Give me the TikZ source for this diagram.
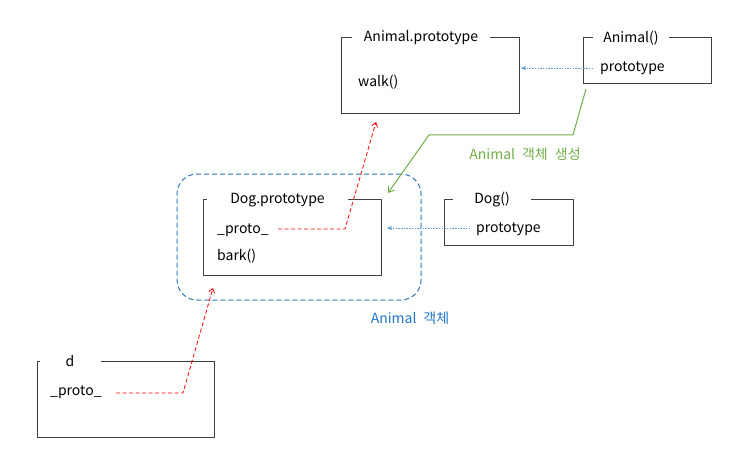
\documentclass[tikz,border=0pt]{standalone}
\usepackage{fontspec}
\setmainfont{Noto Sans CJK KR}
\usetikzlibrary{arrows.meta}
\definecolor{boxgray}{RGB}{64,64,64}
\definecolor{redline}{RGB}{255,0,0}
\definecolor{lightblue}{RGB}{91,155,213}
\definecolor{dashblue}{RGB}{46,117,182}
\definecolor{greenline}{RGB}{112,173,71}
\definecolor{bluetext}{RGB}{31,119,200}
\tikzset{
  box/.style={draw=boxgray, line width=0.9pt, rectangle, inner sep=0pt},
  title/.style={fill=white, inner sep=0pt, minimum height=8pt, text=black},
  item/.style={inner sep=0pt, anchor=west, text=black},
  redarrow/.style={draw=redline, line width=0.8pt, dash pattern=on 4pt off 2.5pt, -{Straight Barb[length=4pt,width=6pt]}},
  bluearrow/.style={draw=lightblue, line width=0.7pt, dash pattern=on 1.5pt off 1.2pt, -{Stealth[length=5pt,width=4pt]}},
  greenarrow/.style={draw=greenline, line width=1pt, -{Straight Barb[length=5pt,width=7pt]}},
  groupbox/.style={draw=dashblue, line width=1pt, dash pattern=on 5pt off 3pt, rounded corners=20pt, rectangle, inner sep=0pt}
}
\begin{document}
\begin{tikzpicture}[x=1pt,y=-1pt, font=\fontsize{14}{16}\selectfont]
\useasboundingbox (0,0) rectangle (735,465);

% Animal.prototype
\node[box, minimum width=178pt, minimum height=76pt] (apbox) at (430,75) {};
\node[title, minimum width=138pt] (aptitle) at (421,38) {Animal.prototype};
\node[item] (walk) at (358,82) {walk()};

% Animal()
\node[box, minimum width=128pt, minimum height=46pt] (anbox) at (647,60) {};
\node[title, minimum width=76pt] (antitle) at (631,38) {Animal()};
\node[item] (anproto) at (600,68) {prototype};

% group
\node[groupbox, minimum width=244pt, minimum height=126pt] (grp) at (299,237) {};
\node[text=bluetext] (grplabel) at (410,318) {Animal\hspace{7pt}객체};

% Dog.prototype
\node[box, minimum width=178pt, minimum height=76pt] (dpbox) at (292,237) {};
\node[title, minimum width=141pt] (dptitle) at (277.5,200) {Dog.prototype};
\node[item] (dpproto) at (217,230) {\_proto\_};
\node[item] (bark) at (217,256) {bark()};

% Dog()
\node[box, minimum width=129pt, minimum height=46pt] (dgbox) at (508.5,222) {};
\node[title, minimum width=78pt] (dgtitle) at (492,200) {Dog()};
\node[item] (dgproto) at (476,229) {prototype};

% d
\node[box, minimum width=177pt, minimum height=76pt] (dbox) at (125.5,399) {};
\node[title, minimum width=61pt] (dtitle) at (70,361) {d};
\node[item] (dproto) at (50,392) {\_proto\_};

% label
\node[text=greenline] (glabel) at (525,154) {Animal\hspace{7pt}객체\hspace{7pt}생성};

% coordinates
\coordinate (b1s) at (593,68);
\coordinate (b1e) at (521,68);
\coordinate (b2s) at (470,228);
\coordinate (b2e) at (387,228);
\coordinate (g0) at (586,89);
\coordinate (g1) at (573,135);
\coordinate (g2) at (429,135);
\coordinate (g3) at (388,193);
\coordinate (r1s) at (278,229);
\coordinate (r1c) at (345,229);
\coordinate (r1e) at (376,122);
\coordinate (r2s) at (116,393);
\coordinate (r2c) at (183,393);
\coordinate (r2e) at (213,288);

% connectors
\draw[bluearrow] (b1s) -- (b1e);
\draw[bluearrow] (b2s) -- (b2e);
\draw[greenarrow] (g0) -- (g1) -- (g2) -- (g3);
\draw[redarrow] (r1s) -- (r1c) -- (r1e);
\draw[redarrow] (r2s) -- (r2c) -- (r2e);
\end{tikzpicture}
\end{document}
